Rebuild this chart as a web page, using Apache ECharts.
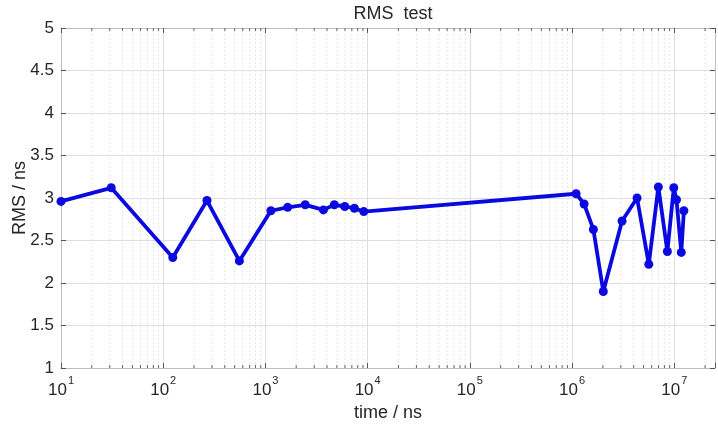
<!DOCTYPE html>
<html>
<head>
<meta charset="utf-8">
<script src="https://cdn.jsdelivr.net/npm/echarts@6/dist/echarts.min.js"></script>
<style>
  html, body { margin: 0; padding: 0; background: #fff; }
  #main { width: 718px; height: 424px; }
</style>
</head>
<body>
<div id="main"></div>
<script>
// time in ns, RMS in ns
const timeNs = [10, 31, 124, 268, 556, 1130, 1650, 2450, 3690, 4720, 5970, 7420, 9160,
  1.094e6, 1.31e6, 1.615e6, 2.02e6, 3.08e6, 4.32e6, 5.63e6, 6.98e6, 8.55e6, 9.88e6, 1.05e7, 1.17e7, 1.24e7];
const rmsNs = [2.96, 3.12, 2.3, 2.97, 2.26, 2.85, 2.89, 2.92, 2.86, 2.92, 2.9, 2.88, 2.84,
  3.05, 2.93, 2.63, 1.9, 2.73, 3.0, 2.22, 3.13, 2.37, 3.12, 2.98, 2.36, 2.85];

const xMin = 10, xMax = 2.5e7;
const yTicks = [1, 1.5, 2, 2.5, 3, 3.5, 4, 4.5, 5];

// minor decade lines 2..9 x 10^n
const minorX = [];
for (let e = 1; e <= 7; e++) {
  for (let k = 2; k <= 9; k++) {
    const v = k * Math.pow(10, e);
    if (v < xMax) minorX.push(v);
  }
}

const chart = echarts.init(document.getElementById('main'));
const txt = '#262626';
const fontFam = 'Liberation Sans, Arial, sans-serif';

const option = {
  animation: false,
  backgroundColor: '#fff',
  title: {
    text: 'RMS  test',
    left: 388,
    top: 0,
    textAlign: 'center',
    textStyle: { fontFamily: fontFam, fontSize: 18, fontWeight: 'normal', color: txt }
  },
  grid: { left: 61, right: 3, top: 28, bottom: 56, containLabel: false, outerBoundsMode: 'none' },
  xAxis: [{
    type: 'log',
    logBase: 10,
    min: xMin,
    max: xMax,
    splitNumber: 7,
    name: 'time / ns',
    nameLocation: 'middle',
    nameGap: 33,
    nameTextStyle: { fontFamily: fontFam, fontSize: 18, color: txt },
    axisLine: { show: true, lineStyle: { color: '#bdbdbd', width: 1 } },
    axisTick: { show: true, inside: true, length: 5, lineStyle: { color: '#555' } },
    splitLine: { show: true, lineStyle: { color: '#dedede', width: 1 } },
    axisLabel: {
      margin: 7,
      formatter: function (v) {
        const e = Math.log10(v);
        if (Math.abs(e - Math.round(e)) > 1e-6) return '';
        return '{b|10}{s|' + Math.round(e) + '}';
      },
      rich: {
        b: { fontFamily: fontFam, fontSize: 17, color: txt, lineHeight: 24, verticalAlign: 'bottom' },
        s: { fontFamily: fontFam, fontSize: 11, color: txt, lineHeight: 24, verticalAlign: 'top', padding: [0, 0, 0, 1] }
      }
    }
  }, {
    type: 'log',
    logBase: 10,
    min: xMin,
    max: xMax,
    splitNumber: 7,
    position: 'top',
    axisLine: { show: true, lineStyle: { color: '#bdbdbd', width: 1 } },
    axisTick: { show: true, inside: true, length: 5, lineStyle: { color: '#555' } },
    splitLine: { show: false },
    axisLabel: { show: false }
  }],
  yAxis: [{
    type: 'value',
    min: yTicks[0],
    max: yTicks[yTicks.length - 1],
    interval: 0.5,
    name: 'RMS / ns',
    nameLocation: 'middle',
    nameGap: 32,
    nameMoveOverlap: false,
    nameTextStyle: { fontFamily: fontFam, fontSize: 18, color: txt },
    axisLine: { show: true, lineStyle: { color: '#bdbdbd', width: 1 } },
    axisTick: { show: true, inside: true, length: 5, lineStyle: { color: '#555' } },
    splitLine: { show: true, lineStyle: { color: '#dedede', width: 1 } },
    axisLabel: { fontFamily: fontFam, fontSize: 17, color: txt, margin: 7 }
  }, {
    type: 'value',
    min: yTicks[0],
    max: yTicks[yTicks.length - 1],
    interval: 0.5,
    position: 'right',
    axisLine: { show: true, lineStyle: { color: '#bdbdbd', width: 1 } },
    axisTick: { show: true, inside: true, length: 5, lineStyle: { color: '#555' } },
    splitLine: { show: false },
    axisLabel: { show: false }
  }],
  series: [{
    // minor grid lines + minor ticks
    type: 'custom',
    silent: true,
    xAxisIndex: 0,
    yAxisIndex: 0,
    z: 1,
    data: minorX.map(v => [v]),
    renderItem: function (params, api) {
      const x = api.value(0);
      const pb = api.coord([x, 1]);
      const pt = api.coord([x, 5]);
      return {
        type: 'group',
        children: [{
          type: 'line',
          shape: { x1: pb[0], y1: pb[1], x2: pt[0], y2: pt[1] },
          style: { stroke: '#e8e8e8', lineWidth: 1, lineDash: [2, 2] }
        }, {
          type: 'line',
          shape: { x1: pb[0], y1: pb[1], x2: pb[0], y2: pb[1] - 3 },
          style: { stroke: '#666', lineWidth: 1 }
        }, {
          type: 'line',
          shape: { x1: pt[0], y1: pt[1], x2: pt[0], y2: pt[1] + 3 },
          style: { stroke: '#666', lineWidth: 1 }
        }]
      };
    }
  }, {
    type: 'line',
    xAxisIndex: 0,
    yAxisIndex: 0,
    z: 5,
    data: timeNs.map((t, i) => [t, rmsNs[i]]),
    symbol: 'circle',
    symbolSize: 9,
    showSymbol: true,
    lineStyle: { color: '#0a0ae0', width: 3.8 },
    itemStyle: { color: '#0a0ae0' }
  }]
};

chart.setOption(option);
</script>
</body>
</html>
